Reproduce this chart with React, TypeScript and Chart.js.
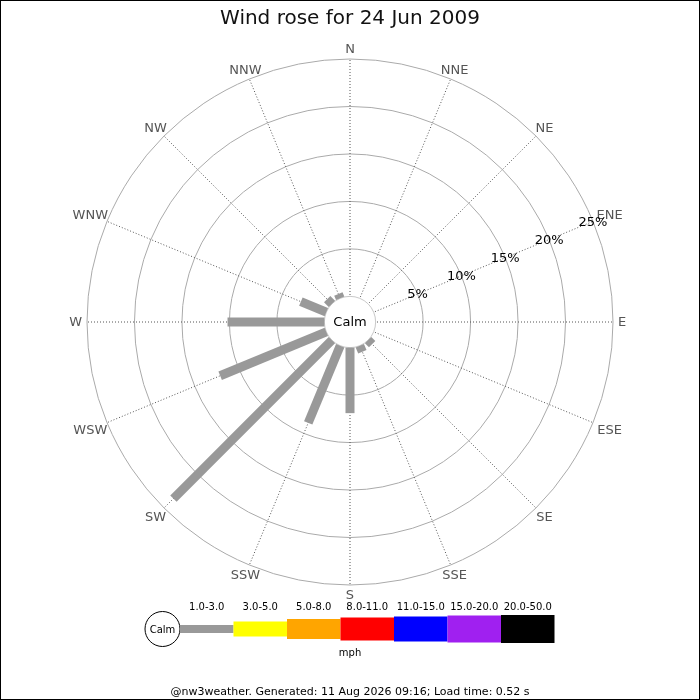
import { useEffect, useRef } from "react";
import {
  Chart,
  registerables,
  type ChartConfiguration,
  type Plugin,
  type RadialLinearScale
} from "chart.js";

Chart.register(...registerables);

const TITLE = "Wind rose for 24 Jun 2009";
const FOOTER = "@nw3weather. Generated: 11 Aug 2026 09:16; Load time: 0.52 s";

const DIRECTIONS = [
  "N", "NNE", "NE", "ENE", "E", "ESE", "SE", "SSE",
  "S", "SSW", "SW", "WSW", "W", "WNW", "NW", "NNW"
];
// % of readings in the 1.0-3.0 mph band, by direction
const FREQ_1_3 = [0, 0, 0, 0, 0, 0, 0.6, 0.7, 6.9, 8.8, 23.6, 12.1, 10.2, 2.9, 0.7, 0.5];
const RING_TICKS = [5, 10, 15, 20, 25];

const SPEED_BANDS = ["1.0-3.0", "3.0-5.0", "5.0-8.0", "8.0-11.0", "11.0-15.0", "15.0-20.0", "20.0-50.0"];
const BAND_COLORS = ["#999999", "#ffff00", "#ffa500", "#ff0000", "#0000ff", "#a020f0", "#000000"];
const BAND_THICKNESS = [8, 15, 20, 23, 25, 27, 28];

const FONT = '"DejaVu Sans", sans-serif';

const windRosePlugin: Plugin<"radar"> = {
  id: "windRose",
  beforeDatasetsDraw(chart) {
    const ctx = chart.ctx;
    const scale = chart.scales.r as RadialLinearScale;
    const calmR = scale.getDistanceFromCenterForValue(0);

    ctx.save();
    ctx.beginPath();
    ctx.arc(scale.xCenter, scale.yCenter, calmR, 0, Math.PI * 2);
    ctx.fillStyle = "#ffffff";
    ctx.fill();
    ctx.strokeStyle = "#c8c8c8";
    ctx.lineWidth = 1;
    ctx.stroke();
    ctx.fillStyle = "#000000";
    ctx.font = `13px ${FONT}`;
    ctx.textAlign = "center";
    ctx.textBaseline = "middle";
    ctx.fillText("Calm", scale.xCenter, scale.yCenter + 1);
    ctx.restore();
  },
  afterDatasetsDraw(chart) {
    const ctx = chart.ctx;
    const scale = chart.scales.r as RadialLinearScale;
    const meta = chart.getDatasetMeta(0);

    // bars from the calm circle out to each point
    ctx.save();
    ctx.strokeStyle = BAND_COLORS[0];
    ctx.lineWidth = 9;
    ctx.lineCap = "butt";
    meta.data.forEach((pt, i) => {
      if (!FREQ_1_3[i]) return;
      const base = scale.getPointPositionForValue(i, 0);
      ctx.beginPath();
      ctx.moveTo(base.x, base.y);
      ctx.lineTo(pt.x, pt.y);
      ctx.stroke();
    });
    ctx.restore();

    // compass labels, box just outside the outer ring
    ctx.save();
    ctx.font = `13px ${FONT}`;
    ctx.fillStyle = "#555555";
    ctx.textAlign = "center";
    ctx.textBaseline = "middle";
    DIRECTIONS.forEach((label, i) => {
      const angle = scale.getIndexAngle(i);
      const w = ctx.measureText(label).width;
      const s = Math.abs(Math.sin(angle));
      const c = Math.abs(Math.cos(angle));
      const d = Math.min(s > 1e-6 ? w / 2 / s : Infinity, c > 1e-6 ? 5 / c : Infinity);
      const p = scale.getPointPosition(i, scale.drawingArea + 5 + d);
      ctx.fillText(label, p.x, p.y + 1);
    });

    // percentage labels along the ENE spoke
    ctx.fillStyle = "#000000";
    const tickIndex = DIRECTIONS.indexOf("ENE");
    RING_TICKS.forEach((v) => {
      const p = scale.getPointPositionForValue(tickIndex, v);
      ctx.fillText(`${v}%`, p.x, p.y + 1);
    });
    ctx.restore();
  },
  afterDraw(chart) {
    const ctx = chart.ctx;
    ctx.save();

    // speed legend
    const cy = 629;
    const calmX = 162.5;
    const calmR = 17.5;
    const segW = 53.5;
    ctx.beginPath();
    ctx.arc(calmX, cy, calmR, 0, Math.PI * 2);
    ctx.fillStyle = "#ffffff";
    ctx.fill();
    ctx.strokeStyle = "#000000";
    ctx.lineWidth = 1;
    ctx.stroke();
    ctx.fillStyle = "#000000";
    ctx.font = `10px ${FONT}`;
    ctx.textAlign = "center";
    ctx.textBaseline = "middle";
    ctx.fillText("Calm", calmX, cy + 1);

    let x = calmX + calmR;
    SPEED_BANDS.forEach((band, i) => {
      const t = BAND_THICKNESS[i];
      ctx.fillStyle = BAND_COLORS[i];
      ctx.fillRect(x, cy - t / 2, segW, t);
      ctx.fillStyle = "#000000";
      ctx.fillText(band, x + segW / 2, 607);
      x += segW;
    });
    ctx.fillText("mph", 350, 653);

    ctx.font = `11px ${FONT}`;
    ctx.fillText(FOOTER, 350, 692);

    ctx.strokeStyle = "#000000";
    ctx.lineWidth = 1;
    ctx.strokeRect(0.5, 0.5, chart.width - 1, chart.height - 1);
    ctx.restore();
  }
};

function WindRose() {
  const canvasRef = useRef<HTMLCanvasElement | null>(null);
  const chartRef = useRef<Chart<"radar"> | null>(null);

  useEffect(() => {
    const canvas = canvasRef.current;
    if (!canvas) return;

    Chart.defaults.font.family = FONT;

    const config: ChartConfiguration<"radar"> = {
      type: "radar",
      data: {
        labels: DIRECTIONS,
        datasets: [
          {
            label: SPEED_BANDS[0],
            data: FREQ_1_3,
            showLine: false,
            fill: false,
            borderWidth: 0,
            pointRadius: 0,
            pointHitRadius: 0
          }
        ]
      },
      options: {
        responsive: false,
        animation: false,
        layout: {
          padding: { left: 87, right: 87, top: 0, bottom: 115 }
        },
        plugins: {
          legend: { display: false },
          tooltip: { enabled: false },
          title: {
            display: true,
            text: TITLE,
            color: "#111111",
            font: { family: FONT, size: 20, weight: "normal" },
            padding: { top: 7, bottom: 28 }
          }
        },
        scales: {
          r: {
            min: -2.7,
            max: 25,
            afterBuildTicks: (scale) => {
              scale.ticks = RING_TICKS.map((value) => ({ value }));
            },
            ticks: { display: false },
            pointLabels: { display: false },
            grid: { circular: true, color: "#aaaaaa", lineWidth: 1 },
            angleLines: { color: "#555555", lineWidth: 1, borderDash: [1, 2] }
          }
        }
      },
      plugins: [windRosePlugin]
    };

    chartRef.current?.destroy();
    chartRef.current = new Chart(canvas, config);

    return () => {
      chartRef.current?.destroy();
      chartRef.current = null;
    };
  }, []);

  return <canvas ref={canvasRef} width={700} height={700} style={{ width: 700, height: 700 }} />;
}

export default function App() {
  return (
    <div style={{ position: "absolute", left: 0, top: 0, width: 700, height: 700, background: "#ffffff" }}>
      <WindRose />
    </div>
  );
}
